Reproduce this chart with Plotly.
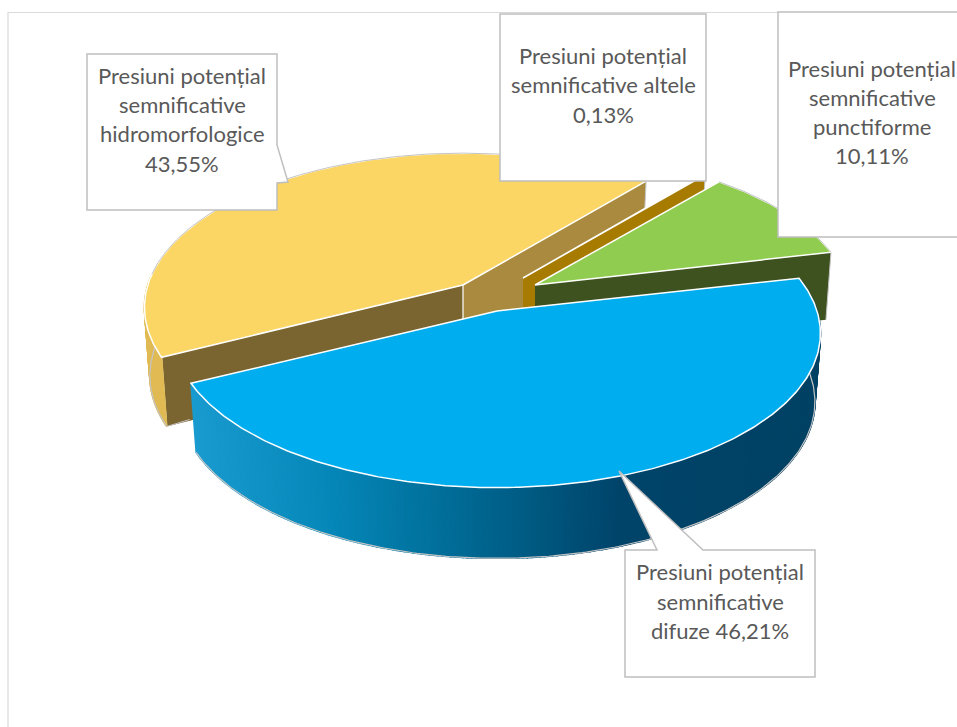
import math
import plotly.graph_objects as go

# ---- data (clockwise from the left edge of the yellow slice) ----
categories = ["hidromorfologice", "altele", "punctiforme", "difuze"]
values = [43.55, 0.13, 10.11, 46.21]
label_lines = [
    ["Presiuni potențial", "semnificative", "hidromorfologice", "43,55%"],
    ["Presiuni potențial", "semnificative altele", "0,13%"],
    ["Presiuni potențial", "semnificative", "punctiforme", "10,11%"],
    ["Presiuni potențial", "semnificative", "difuze 46,21%"],
]

# ---- styling / layout ----
W, H = 957, 727
START = 206.6
A, B, P = 320.0, 151.0, 0.145
DEPTH = 68.0
apex = [(463, 285), (523, 278), (535, 285), (497, 311)]
x_scale = [0.985, 0.97, 0.98, 1.0]
top_col = ["#FBD665", "#A67B00", "#8FCC4F", "#00ADEF"]
wall_col = ["#E0BA54", "#A67B00", "#3E5220", None]
face_end = ["#A98A3E", "#A67B00", "#3E5220", None]     # cut face at the slice's clockwise end
face_start = ["#7A6430", None, None, None]             # cut face at the slice's clockwise start
TEXT = "#595959"
BORDER = "#BFBFBF"
line_x = [182, 603, 872, 720]
line_y = [[75, 104, 133, 163], [55, 84, 114], [68, 97, 126, 155], [571, 601, 630]]
boxes = [
    "M87,54 L277,54 L277,145 L288,182 L277,183 L277,210 L87,210 Z",
    "M500,14 L706,14 L706,181 L500,181 Z",
    "M778,12 L960,12 L960,237 L778,237 Z",
    "M625,550 L657,550 L619,471 L703,550 L815,550 L815,677 L625,677 Z",
]


def project(i, deg, down=0.0):
    ax, ay = apex[i]
    t = math.radians(deg)
    u, v = math.cos(t), math.sin(t)
    s = 1.0 / (1.0 + P * v)
    shrink = 0.983 if down else 1.0
    return (ax + A * u * s * x_scale[i] * shrink,
            ay - B * v * s + down * s ** 0.25)


def front_facing(deg):
    d = deg % 360
    return d >= 176 or d <= 12


def blend(c1, c2, f):
    a = [int(c1[i:i + 2], 16) for i in (1, 3, 5)]
    b = [int(c2[i:i + 2], 16) for i in (1, 3, 5)]
    return "#%02x%02x%02x" % tuple(round(x + (y - x) * f) for x, y in zip(a, b))


def poly(fig, pts, fill, line=None, width=0.0):
    fig.add_trace(go.Scatter(
        x=[p[0] for p in pts] + [pts[0][0]],
        y=[p[1] for p in pts] + [pts[0][1]],
        mode="lines", fill="toself", fillcolor=fill,
        line=dict(color=line or fill, width=width),
        hoverinfo="skip", showlegend=False))


def open_line(fig, pts, color, width):
    fig.add_trace(go.Scatter(
        x=[p[0] for p in pts], y=[p[1] for p in pts], mode="lines",
        line=dict(color=color, width=width), hoverinfo="skip", showlegend=False))


def blue_wall_colour(x):
    stops = [(190, "#1A9BD0"), (330, "#0587B8"), (480, "#00668F"),
             (620, "#00446A"), (960, "#00405F")]
    for (x0, c0), (x1, c1) in zip(stops, stops[1:]):
        if x <= x1:
            return blend(c0, c1, max(0.0, (x - x0) / (x1 - x0)))
    return stops[-1][1]


fig = go.Figure()
total = sum(values)
angle = START
for i, val in enumerate(values):
    sweep = val / total * 360.0
    a0, a1 = angle, angle - sweep
    angle = a1
    ax, ay = apex[i]
    n = max(2, int(sweep * 1.5))
    arc = [a0 + (a1 - a0) * k / n for k in range(n + 1)]
    top = [project(i, d) for d in arc]
    bot = [project(i, d, DEPTH) for d in arc]
    apex_b = (ax, ay + DEPTH)

    # radial cut faces (behind the outer wall)
    if face_end[i]:
        poly(fig, [(ax, ay), top[-1], bot[-1], apex_b], face_end[i])
    if face_start[i]:
        poly(fig, [(ax, ay), top[0], bot[0], apex_b], face_start[i])
        open_line(fig, [(ax, ay), apex_b], "#FFFFFF", 1.2)
        open_line(fig, [top[0], bot[0]], "#FFFFFF", 1.2)
    if face_end[i]:
        open_line(fig, [top[-1], bot[-1]], "#C4C4C4", 1.0)

    # outer wall, only the part that faces the viewer
    idx = [k for k in range(n + 1) if front_facing(arc[k])]
    if idx:
        for k, k2 in zip(idx, idx[1:]):
            col = wall_col[i] or blue_wall_colour((top[k][0] + top[k2][0]) / 2)
            poly(fig, [top[k], top[k2], bot[k2], bot[k]], col, col, 1.6)
        open_line(fig, [bot[k] for k in idx], "#C4C4C4", 1.2)
        if i == 3:
            open_line(fig, [top[0], bot[0]], "#C4C4C4", 1.2)
        if i == 0:
            open_line(fig, [bot[0], (bot[0][0] + 23, bot[0][1] - 7)], "#C4C4C4", 1.0)

    # top
    poly(fig, [(ax, ay)] + top, top_col[i], "#FFFFFF", 1.5)
    back = [top[k] for k in range(n + 1) if not front_facing(arc[k])]
    if len(back) > 1 and i in (0, 2):
        open_line(fig, back, "#BDBDBD", 0.9)

# callouts
shapes = [dict(type="path", path=p, fillcolor="#FFFFFF",
               line=dict(color=BORDER, width=1.5), layer="above") for p in boxes]
shapes.insert(0, dict(type="path", path=f"M8,{H+5} L8,12.5 L{W+5},12.5",
                      line=dict(color="#D9D9D9", width=1.2), layer="below"))

annotations = []
for lines, x, ys in zip(label_lines, line_x, line_y):
    for txt, y in zip(lines, ys):
        annotations.append(dict(x=x, y=y, xref="x", yref="y", text=txt, showarrow=False,
                                xanchor="center", yanchor="middle",
                                font=dict(family="Lato, Carlito, sans-serif", size=22, color=TEXT)))

fig.update_layout(
    width=W, height=H, margin=dict(l=0, r=0, t=0, b=0),
    paper_bgcolor="#FFFFFF", plot_bgcolor="#FFFFFF", showlegend=False,
    xaxis=dict(range=[0, W], visible=False, fixedrange=True),
    yaxis=dict(range=[H, 0], visible=False, fixedrange=True),
    shapes=shapes, annotations=annotations,
)
fig.write_html("out.html", config={"displayModeBar": False},
               post_script="document.body.style.margin='0';document.body.style.overflow='hidden';")
